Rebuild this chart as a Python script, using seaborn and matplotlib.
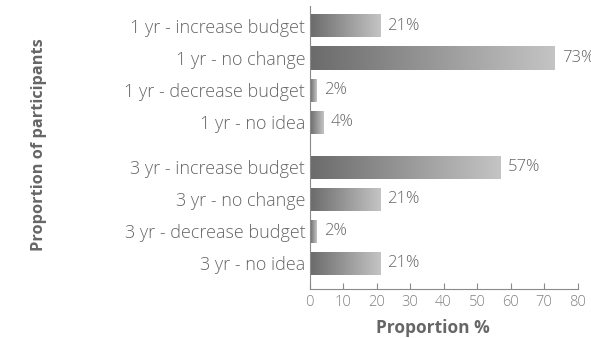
import numpy as np
import pandas as pd
import matplotlib
matplotlib.use("Agg")
import matplotlib.pyplot as plt
from matplotlib.colors import LinearSegmentedColormap
import seaborn as sns

categories = [
    "1 yr - increase budget",
    "1 yr - no change",
    "1 yr - decrease budget",
    "1 yr - no idea",
    "3 yr - increase budget",
    "3 yr - no change",
    "3 yr - decrease budget",
    "3 yr - no idea",
]
proportions = [21, 73, 2, 4, 57, 21, 2, 21]
x_ticks = [0, 10, 20, 30, 40, 50, 60, 70, 80]

# row positions: two groups of four with a small gap between them
positions = [0, 1, 2, 3, 4.4, 5.4, 6.4, 7.4]

df = pd.DataFrame({"category": categories, "value": proportions, "pos": positions})

sns.set_theme(style="white")
plt.rcParams["font.family"] = ["Open Sans", "DejaVu Sans"]

text_color = "#666666"
fig = plt.figure(figsize=(5.91, 3.38), dpi=100)
ax = fig.add_axes([309.5 / 591, 1 - 289 / 338, 268 / 591, 283 / 338])

sns.barplot(data=df, x="value", y="pos", orient="y", native_scale=True,
            width=0.72, color="#888888", ax=ax)

# left-to-right grey gradient inside each bar
cmap = LinearSegmentedColormap.from_list("bar_grad", ["#6b6b6b", "#c4c4c4"])
grad = np.linspace(0, 1, 256).reshape(1, -1)
for patch in list(ax.patches):
    x0, y0 = patch.get_x(), patch.get_y()
    w, h = patch.get_width(), patch.get_height()
    im = ax.imshow(grad, cmap=cmap, aspect="auto", extent=[x0, x0 + w, y0 + h, y0],
                   interpolation="bilinear", zorder=patch.get_zorder())
    im.set_clip_path(patch)
    patch.set_facecolor("none")
    patch.set_edgecolor("none")

for val, pos in zip(proportions, positions):
    ax.annotate(f"{val}%", xy=(val, pos), xytext=(5.5, 0), textcoords="offset points",
                ha="left", va="center", fontsize=12, fontweight="light",
                color=text_color, annotation_clip=False)

ax.set_xlim(0, 80)
ax.set_ylim(7.4 + 0.8, -0.62)
ax.set_xticks(x_ticks)
ax.set_xticklabels([str(t) for t in x_ticks], fontweight="light")
ax.set_yticks(positions)
ax.set_yticklabels(categories, fontweight="light")

for side in ["top", "right"]:
    ax.spines[side].set_visible(False)
for side in ["left", "bottom"]:
    ax.spines[side].set_color("#8a8a8a")
    ax.spines[side].set_linewidth(0.8)

ax.tick_params(axis="x", direction="in", length=4, width=0.8, color="#8a8a8a",
               labelsize=10.5, labelcolor="#808080", pad=4, bottom=True)
ax.tick_params(axis="y", length=0, labelsize=13, labelcolor=text_color, pad=3)

ax.set_xlabel("Proportion %", fontsize=12.5, fontweight="bold", color=text_color)
ax.xaxis.set_label_coords(0.46, -0.105)
ax.set_ylabel("Proportion of participants", fontsize=11.8, fontweight="bold", color=text_color)
ax.yaxis.set_label_coords(-0.98, 0.51)

fig.savefig("out.png", dpi=100)
